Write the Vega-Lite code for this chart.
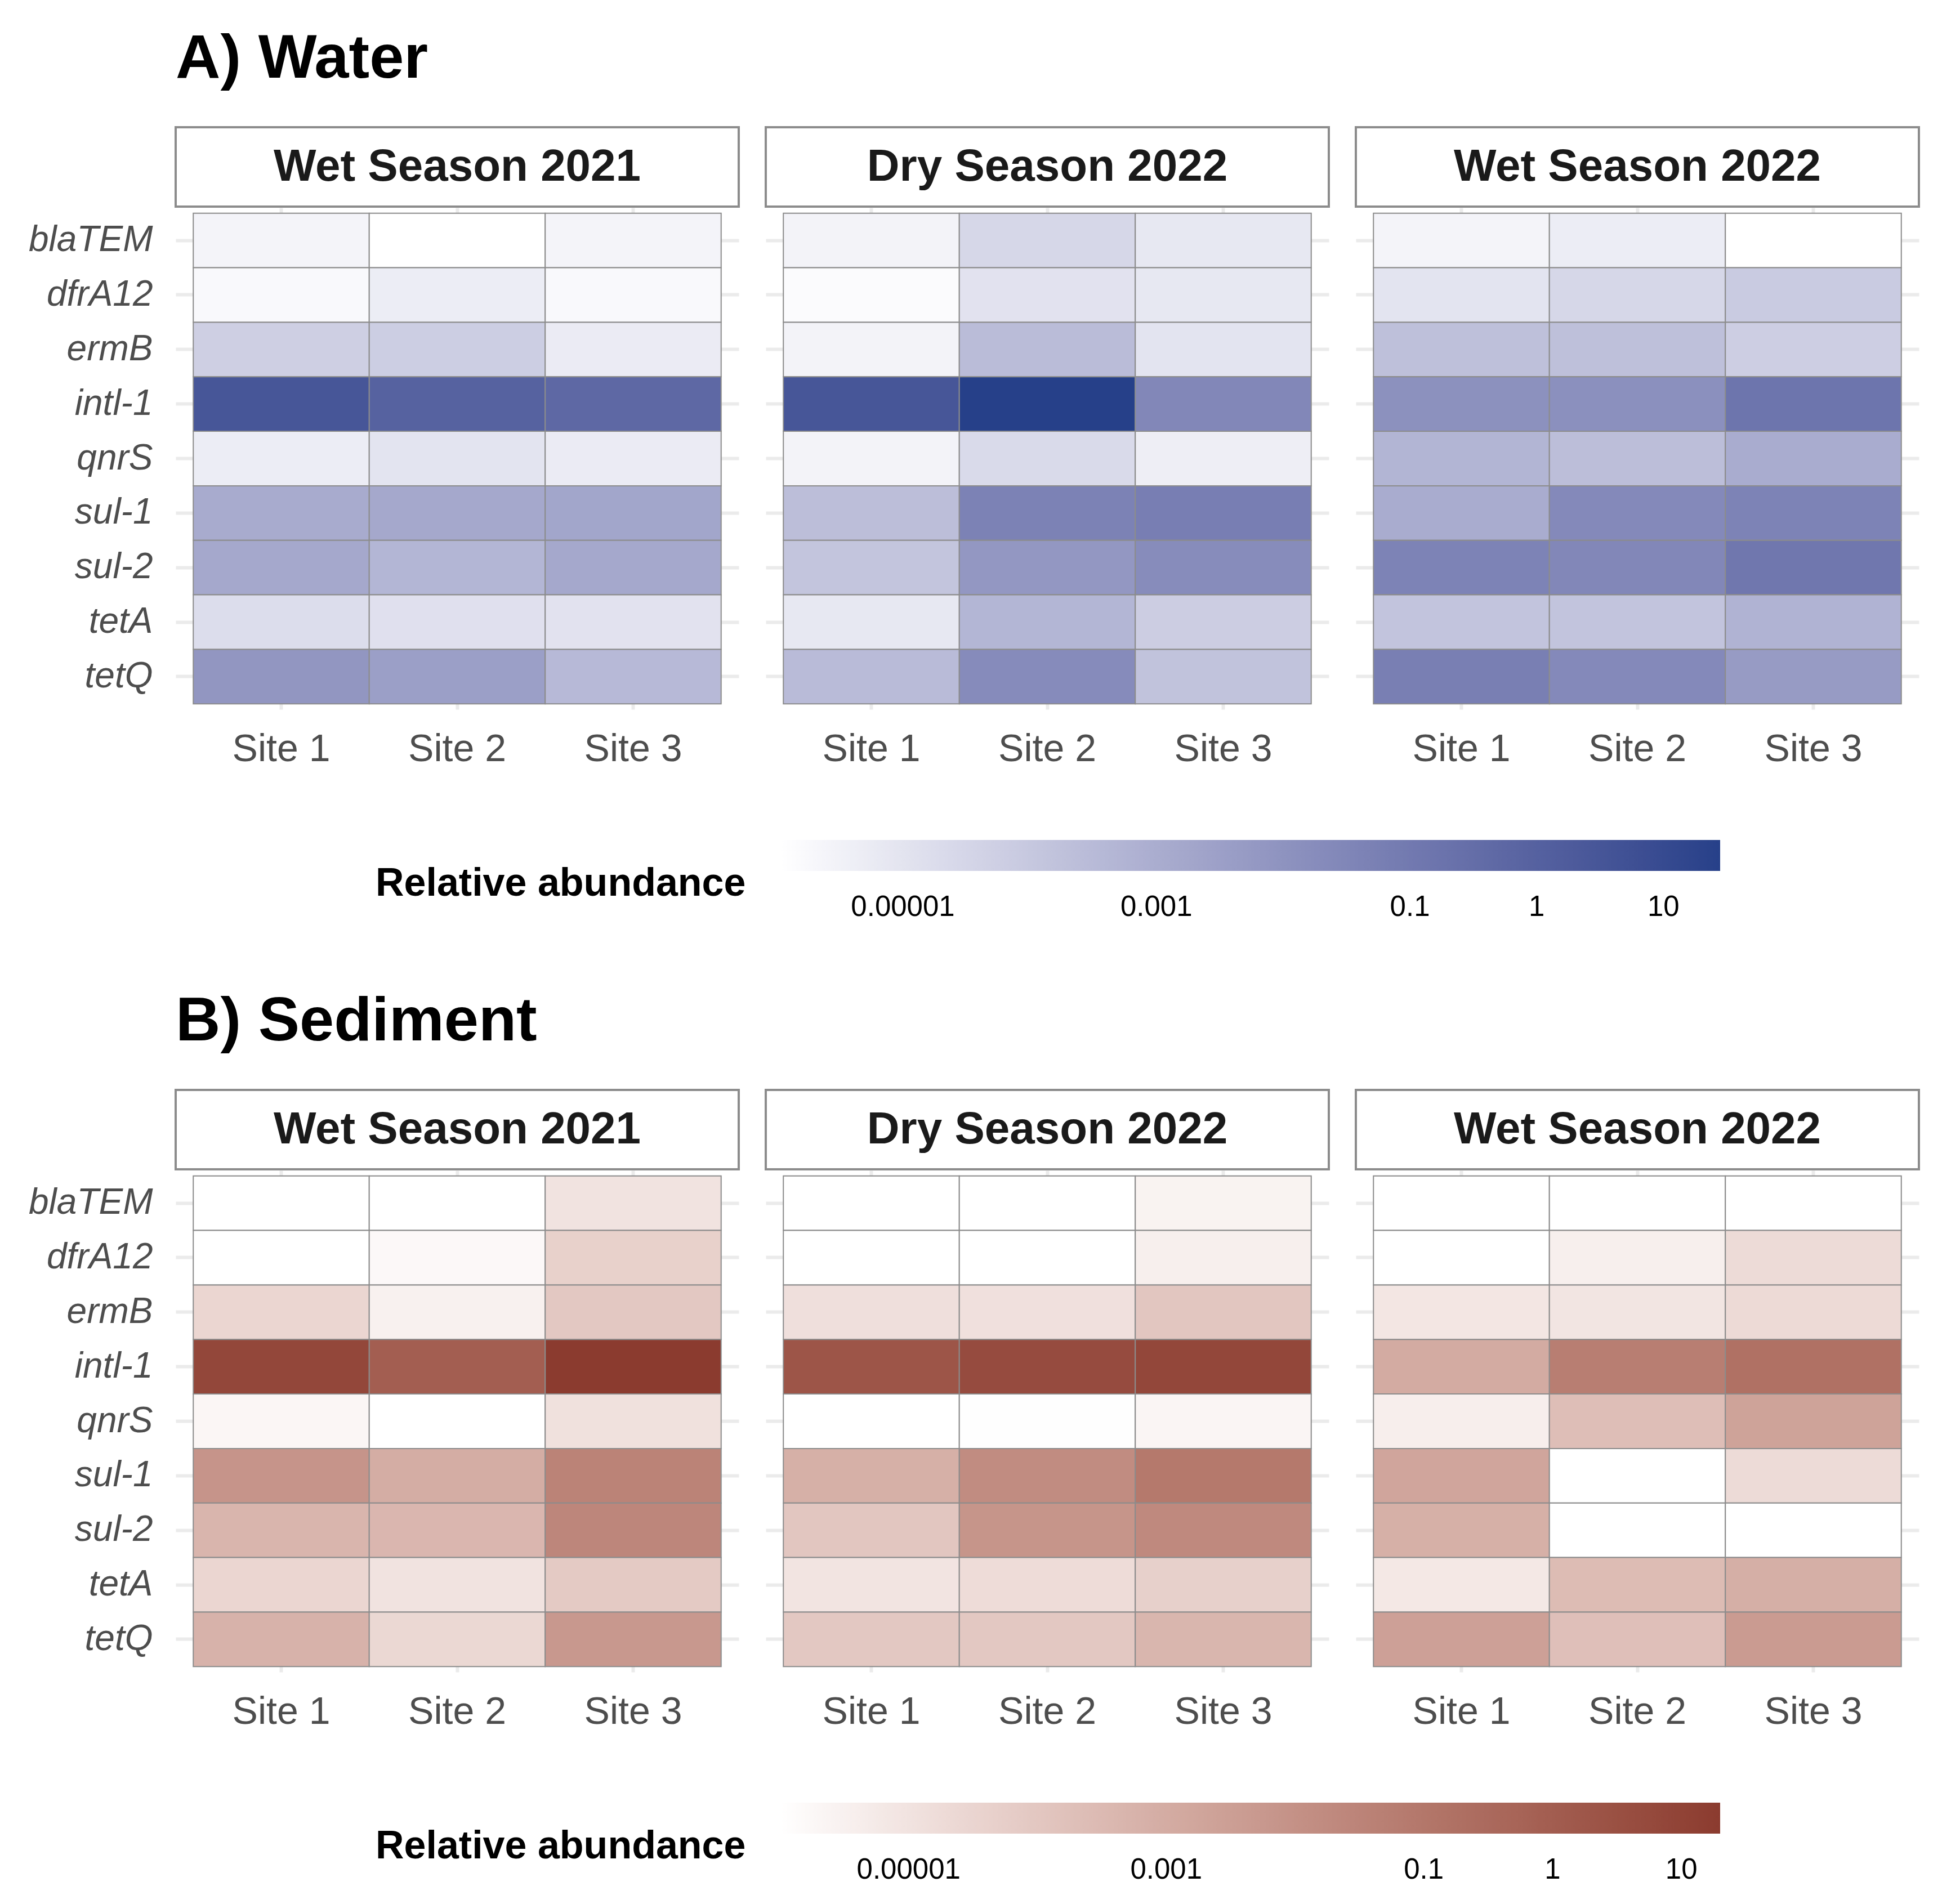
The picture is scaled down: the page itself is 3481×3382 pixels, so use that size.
{
"$schema":"https://vega.github.io/schema/vega-lite/v6.json",
"background":"white",
"padding":{"left":50,"top":50,"right":40,"bottom":30},
"config":{"view":{"stroke":null},"font":"Liberation Sans",
 "axis":{"labelFont":"Liberation Sans","labelColor":"#4D4D4D","ticks":false,"domain":false,"grid":true,"gridColor":"#EBEBEB","gridWidth":6,"zindex":0,"labelLimit":500},
 "axisX":{"labelFontSize":68,"labelAngle":0,"labelPadding":37},
 "axisY":{"labelFontSize":64,"labelFontStyle":"italic","labelPadding":41}
},
"datasets":{"abund":[
{"matrix":"Water","season":"Wet Season 2021","site":"Site 1","gene":"blaTEM","value":2.6e-6},
{"matrix":"Water","season":"Wet Season 2021","site":"Site 2","gene":"blaTEM","value":1.07e-6},
{"matrix":"Water","season":"Wet Season 2021","site":"Site 3","gene":"blaTEM","value":2.6e-6},
{"matrix":"Water","season":"Wet Season 2021","site":"Site 1","gene":"dfrA12","value":1.7e-6},
{"matrix":"Water","season":"Wet Season 2021","site":"Site 2","gene":"dfrA12","value":4.7e-6},
{"matrix":"Water","season":"Wet Season 2021","site":"Site 3","gene":"dfrA12","value":1.7e-6},
{"matrix":"Water","season":"Wet Season 2021","site":"Site 1","gene":"ermB","value":5.6e-5},
{"matrix":"Water","season":"Wet Season 2021","site":"Site 2","gene":"ermB","value":6.2e-5},
{"matrix":"Water","season":"Wet Season 2021","site":"Site 3","gene":"ermB","value":5.4e-6},
{"matrix":"Water","season":"Wet Season 2021","site":"Site 1","gene":"intl-1","value":3.0},
{"matrix":"Water","season":"Wet Season 2021","site":"Site 2","gene":"intl-1","value":0.94},
{"matrix":"Water","season":"Wet Season 2021","site":"Site 3","gene":"intl-1","value":0.5},
{"matrix":"Water","season":"Wet Season 2021","site":"Site 1","gene":"qnrS","value":4.7e-6},
{"matrix":"Water","season":"Wet Season 2021","site":"Site 2","gene":"qnrS","value":9.6e-6},
{"matrix":"Water","season":"Wet Season 2021","site":"Site 3","gene":"qnrS","value":5.4e-6},
{"matrix":"Water","season":"Wet Season 2021","site":"Site 1","gene":"sul-1","value":0.00115},
{"matrix":"Water","season":"Wet Season 2021","site":"Site 2","gene":"sul-1","value":0.0015},
{"matrix":"Water","season":"Wet Season 2021","site":"Site 3","gene":"sul-1","value":0.0019},
{"matrix":"Water","season":"Wet Season 2021","site":"Site 1","gene":"sul-2","value":0.0015},
{"matrix":"Water","season":"Wet Season 2021","site":"Site 2","gene":"sul-2","value":0.00047},
{"matrix":"Water","season":"Wet Season 2021","site":"Site 3","gene":"sul-2","value":0.0015},
{"matrix":"Water","season":"Wet Season 2021","site":"Site 1","gene":"tetA","value":1.7e-5},
{"matrix":"Water","season":"Wet Season 2021","site":"Site 2","gene":"tetA","value":1.3e-5},
{"matrix":"Water","season":"Wet Season 2021","site":"Site 3","gene":"tetA","value":1.1e-5},
{"matrix":"Water","season":"Wet Season 2021","site":"Site 1","gene":"tetQ","value":0.0074},
{"matrix":"Water","season":"Wet Season 2021","site":"Site 2","gene":"tetQ","value":0.0035},
{"matrix":"Water","season":"Wet Season 2021","site":"Site 3","gene":"tetQ","value":0.00034},
{"matrix":"Water","season":"Dry Season 2022","site":"Site 1","gene":"blaTEM","value":2.8e-6},
{"matrix":"Water","season":"Dry Season 2022","site":"Site 2","gene":"blaTEM","value":2.9e-5},
{"matrix":"Water","season":"Dry Season 2022","site":"Site 3","gene":"blaTEM","value":7.0e-6},
{"matrix":"Water","season":"Dry Season 2022","site":"Site 1","gene":"dfrA12","value":1.5e-6},
{"matrix":"Water","season":"Dry Season 2022","site":"Site 2","gene":"dfrA12","value":1.1e-5},
{"matrix":"Water","season":"Dry Season 2022","site":"Site 3","gene":"dfrA12","value":7.0e-6},
{"matrix":"Water","season":"Dry Season 2022","site":"Site 1","gene":"ermB","value":2.8e-6},
{"matrix":"Water","season":"Dry Season 2022","site":"Site 2","gene":"ermB","value":0.00028},
{"matrix":"Water","season":"Dry Season 2022","site":"Site 3","gene":"ermB","value":9.6e-6},
{"matrix":"Water","season":"Dry Season 2022","site":"Site 1","gene":"intl-1","value":3.0},
{"matrix":"Water","season":"Dry Season 2022","site":"Site 2","gene":"intl-1","value":28},
{"matrix":"Water","season":"Dry Season 2022","site":"Site 3","gene":"intl-1","value":0.028},
{"matrix":"Water","season":"Dry Season 2022","site":"Site 1","gene":"qnrS","value":2.8e-6},
{"matrix":"Water","season":"Dry Season 2022","site":"Site 2","gene":"qnrS","value":2.2e-5},
{"matrix":"Water","season":"Dry Season 2022","site":"Site 3","gene":"qnrS","value":4.3e-6},
{"matrix":"Water","season":"Dry Season 2022","site":"Site 1","gene":"sul-1","value":0.00023},
{"matrix":"Water","season":"Dry Season 2022","site":"Site 2","gene":"sul-1","value":0.045},
{"matrix":"Water","season":"Dry Season 2022","site":"Site 3","gene":"sul-1","value":0.063},
{"matrix":"Water","season":"Dry Season 2022","site":"Site 1","gene":"sul-2","value":0.00013},
{"matrix":"Water","season":"Dry Season 2022","site":"Site 2","gene":"sul-2","value":0.0069},
{"matrix":"Water","season":"Dry Season 2022","site":"Site 3","gene":"sul-2","value":0.018},
{"matrix":"Water","season":"Dry Season 2022","site":"Site 1","gene":"tetA","value":7.0e-6},
{"matrix":"Water","season":"Dry Season 2022","site":"Site 2","gene":"tetA","value":0.00047},
{"matrix":"Water","season":"Dry Season 2022","site":"Site 3","gene":"tetA","value":6.6e-5},
{"matrix":"Water","season":"Dry Season 2022","site":"Site 1","gene":"tetQ","value":0.00029},
{"matrix":"Water","season":"Dry Season 2022","site":"Site 2","gene":"tetQ","value":0.020},
{"matrix":"Water","season":"Dry Season 2022","site":"Site 3","gene":"tetQ","value":0.00015},
{"matrix":"Water","season":"Wet Season 2022","site":"Site 1","gene":"blaTEM","value":2.6e-6},
{"matrix":"Water","season":"Wet Season 2022","site":"Site 2","gene":"blaTEM","value":4.7e-6},
{"matrix":"Water","season":"Wet Season 2022","site":"Site 3","gene":"blaTEM","value":1.07e-6},
{"matrix":"Water","season":"Wet Season 2022","site":"Site 1","gene":"dfrA12","value":9.6e-6},
{"matrix":"Water","season":"Wet Season 2022","site":"Site 2","gene":"dfrA12","value":2.9e-5},
{"matrix":"Water","season":"Wet Season 2022","site":"Site 3","gene":"dfrA12","value":7.9e-5},
{"matrix":"Water","season":"Wet Season 2022","site":"Site 1","gene":"ermB","value":0.0002},
{"matrix":"Water","season":"Wet Season 2022","site":"Site 2","gene":"ermB","value":0.0002},
{"matrix":"Water","season":"Wet Season 2022","site":"Site 3","gene":"ermB","value":6.0e-5},
{"matrix":"Water","season":"Wet Season 2022","site":"Site 1","gene":"intl-1","value":0.012},
{"matrix":"Water","season":"Wet Season 2022","site":"Site 2","gene":"intl-1","value":0.013},
{"matrix":"Water","season":"Wet Season 2022","site":"Site 3","gene":"intl-1","value":0.15},
{"matrix":"Water","season":"Wet Season 2022","site":"Site 1","gene":"qnrS","value":0.00051},
{"matrix":"Water","season":"Wet Season 2022","site":"Site 2","gene":"qnrS","value":0.00023},
{"matrix":"Water","season":"Wet Season 2022","site":"Site 3","gene":"qnrS","value":0.00107},
{"matrix":"Water","season":"Wet Season 2022","site":"Site 1","gene":"sul-1","value":0.00107},
{"matrix":"Water","season":"Wet Season 2022","site":"Site 2","gene":"sul-1","value":0.023},
{"matrix":"Water","season":"Wet Season 2022","site":"Site 3","gene":"sul-1","value":0.041},
{"matrix":"Water","season":"Wet Season 2022","site":"Site 1","gene":"sul-2","value":0.041},
{"matrix":"Water","season":"Wet Season 2022","site":"Site 2","gene":"sul-2","value":0.028},
{"matrix":"Water","season":"Wet Season 2022","site":"Site 3","gene":"sul-2","value":0.12},
{"matrix":"Water","season":"Wet Season 2022","site":"Site 1","gene":"tetA","value":0.00014},
{"matrix":"Water","season":"Wet Season 2022","site":"Site 2","gene":"tetA","value":0.00014},
{"matrix":"Water","season":"Wet Season 2022","site":"Site 3","gene":"tetA","value":0.00061},
{"matrix":"Water","season":"Wet Season 2022","site":"Site 1","gene":"tetQ","value":0.059},
{"matrix":"Water","season":"Wet Season 2022","site":"Site 2","gene":"tetQ","value":0.023},
{"matrix":"Water","season":"Wet Season 2022","site":"Site 3","gene":"tetQ","value":0.0048},
{"matrix":"Sediment","season":"Wet Season 2021","site":"Site 1","gene":"blaTEM","value":1e-6},
{"matrix":"Sediment","season":"Wet Season 2021","site":"Site 2","gene":"blaTEM","value":1e-6},
{"matrix":"Sediment","season":"Wet Season 2021","site":"Site 3","gene":"blaTEM","value":9.7e-6},
{"matrix":"Sediment","season":"Wet Season 2021","site":"Site 1","gene":"dfrA12","value":1e-6},
{"matrix":"Sediment","season":"Wet Season 2021","site":"Site 2","gene":"dfrA12","value":1.7e-6},
{"matrix":"Sediment","season":"Wet Season 2021","site":"Site 3","gene":"dfrA12","value":4.5e-5},
{"matrix":"Sediment","season":"Wet Season 2021","site":"Site 1","gene":"ermB","value":2.9e-5},
{"matrix":"Sediment","season":"Wet Season 2021","site":"Site 2","gene":"ermB","value":3.2e-6},
{"matrix":"Sediment","season":"Wet Season 2021","site":"Site 3","gene":"ermB","value":8.9e-5},
{"matrix":"Sediment","season":"Wet Season 2021","site":"Site 1","gene":"intl-1","value":6.9},
{"matrix":"Sediment","season":"Wet Season 2021","site":"Site 2","gene":"intl-1","value":0.93},
{"matrix":"Sediment","season":"Wet Season 2021","site":"Site 3","gene":"intl-1","value":20},
{"matrix":"Sediment","season":"Wet Season 2021","site":"Site 1","gene":"qnrS","value":2.0e-6},
{"matrix":"Sediment","season":"Wet Season 2021","site":"Site 2","gene":"qnrS","value":1e-6},
{"matrix":"Sediment","season":"Wet Season 2021","site":"Site 3","gene":"qnrS","value":1.2e-5},
{"matrix":"Sediment","season":"Wet Season 2021","site":"Site 1","gene":"sul-1","value":0.0076},
{"matrix":"Sediment","season":"Wet Season 2021","site":"Site 2","gene":"sul-1","value":0.00091},
{"matrix":"Sediment","season":"Wet Season 2021","site":"Site 3","gene":"sul-1","value":0.035},
{"matrix":"Sediment","season":"Wet Season 2021","site":"Site 1","gene":"sul-2","value":0.00046},
{"matrix":"Sediment","season":"Wet Season 2021","site":"Site 2","gene":"sul-2","value":0.00041},
{"matrix":"Sediment","season":"Wet Season 2021","site":"Site 3","gene":"sul-2","value":0.026},
{"matrix":"Sediment","season":"Wet Season 2021","site":"Site 1","gene":"tetA","value":2.9e-5},
{"matrix":"Sediment","season":"Wet Season 2021","site":"Site 2","gene":"tetA","value":9.7e-6},
{"matrix":"Sediment","season":"Wet Season 2021","site":"Site 3","gene":"tetA","value":7.9e-5},
{"matrix":"Sediment","season":"Wet Season 2021","site":"Site 1","gene":"tetQ","value":0.00057},
{"matrix":"Sediment","season":"Wet Season 2021","site":"Site 2","gene":"tetQ","value":2.5e-5},
{"matrix":"Sediment","season":"Wet Season 2021","site":"Site 3","gene":"tetQ","value":0.0054},
{"matrix":"Sediment","season":"Dry Season 2022","site":"Site 1","gene":"blaTEM","value":1e-6},
{"matrix":"Sediment","season":"Dry Season 2022","site":"Site 2","gene":"blaTEM","value":1e-6},
{"matrix":"Sediment","season":"Dry Season 2022","site":"Site 3","gene":"blaTEM","value":2.7e-6},
{"matrix":"Sediment","season":"Dry Season 2022","site":"Site 1","gene":"dfrA12","value":1e-6},
{"matrix":"Sediment","season":"Dry Season 2022","site":"Site 2","gene":"dfrA12","value":1e-6},
{"matrix":"Sediment","season":"Dry Season 2022","site":"Site 3","gene":"dfrA12","value":3.6e-6},
{"matrix":"Sediment","season":"Dry Season 2022","site":"Site 1","gene":"ermB","value":1.35e-5},
{"matrix":"Sediment","season":"Dry Season 2022","site":"Site 2","gene":"ermB","value":1.25e-5},
{"matrix":"Sediment","season":"Dry Season 2022","site":"Site 3","gene":"ermB","value":0.000107},
{"matrix":"Sediment","season":"Dry Season 2022","site":"Site 1","gene":"intl-1","value":2.0},
{"matrix":"Sediment","season":"Dry Season 2022","site":"Site 2","gene":"intl-1","value":4.7},
{"matrix":"Sediment","season":"Dry Season 2022","site":"Site 3","gene":"intl-1","value":6.9},
{"matrix":"Sediment","season":"Dry Season 2022","site":"Site 1","gene":"qnrS","value":1e-6},
{"matrix":"Sediment","season":"Dry Season 2022","site":"Site 2","gene":"qnrS","value":1.1e-6},
{"matrix":"Sediment","season":"Dry Season 2022","site":"Site 3","gene":"qnrS","value":2.2e-6},
{"matrix":"Sediment","season":"Dry Season 2022","site":"Site 1","gene":"sul-1","value":0.00072},
{"matrix":"Sediment","season":"Dry Season 2022","site":"Site 2","gene":"sul-1","value":0.015},
{"matrix":"Sediment","season":"Dry Season 2022","site":"Site 3","gene":"sul-1","value":0.085},
{"matrix":"Sediment","season":"Dry Season 2022","site":"Site 1","gene":"sul-2","value":0.000105},
{"matrix":"Sediment","season":"Dry Season 2022","site":"Site 2","gene":"sul-2","value":0.0072},
{"matrix":"Sediment","season":"Dry Season 2022","site":"Site 3","gene":"sul-2","value":0.020},
{"matrix":"Sediment","season":"Dry Season 2022","site":"Site 1","gene":"tetA","value":8.9e-6},
{"matrix":"Sediment","season":"Dry Season 2022","site":"Site 2","gene":"tetA","value":1.7e-5},
{"matrix":"Sediment","season":"Dry Season 2022","site":"Site 3","gene":"tetA","value":4.8e-5},
{"matrix":"Sediment","season":"Dry Season 2022","site":"Site 1","gene":"tetQ","value":9.3e-5},
{"matrix":"Sediment","season":"Dry Season 2022","site":"Site 2","gene":"tetQ","value":9.3e-5},
{"matrix":"Sediment","season":"Dry Season 2022","site":"Site 3","gene":"tetQ","value":0.00043},
{"matrix":"Sediment","season":"Wet Season 2022","site":"Site 1","gene":"blaTEM","value":1e-6},
{"matrix":"Sediment","season":"Wet Season 2022","site":"Site 2","gene":"blaTEM","value":1e-6},
{"matrix":"Sediment","season":"Wet Season 2022","site":"Site 3","gene":"blaTEM","value":1e-6},
{"matrix":"Sediment","season":"Wet Season 2022","site":"Site 1","gene":"dfrA12","value":1e-6},
{"matrix":"Sediment","season":"Wet Season 2022","site":"Site 2","gene":"dfrA12","value":3.6e-6},
{"matrix":"Sediment","season":"Wet Season 2022","site":"Site 3","gene":"dfrA12","value":1.9e-5},
{"matrix":"Sediment","season":"Wet Season 2022","site":"Site 1","gene":"ermB","value":7.9e-6},
{"matrix":"Sediment","season":"Wet Season 2022","site":"Site 2","gene":"ermB","value":8.5e-6},
{"matrix":"Sediment","season":"Wet Season 2022","site":"Site 3","gene":"ermB","value":2.1e-5},
{"matrix":"Sediment","season":"Wet Season 2022","site":"Site 1","gene":"intl-1","value":0.00105},
{"matrix":"Sediment","season":"Wet Season 2022","site":"Site 2","gene":"intl-1","value":0.055},
{"matrix":"Sediment","season":"Wet Season 2022","site":"Site 3","gene":"intl-1","value":0.17},
{"matrix":"Sediment","season":"Wet Season 2022","site":"Site 1","gene":"qnrS","value":4.0e-6},
{"matrix":"Sediment","season":"Wet Season 2022","site":"Site 2","gene":"qnrS","value":0.00022},
{"matrix":"Sediment","season":"Wet Season 2022","site":"Site 3","gene":"qnrS","value":0.0022},
{"matrix":"Sediment","season":"Wet Season 2022","site":"Site 1","gene":"sul-1","value":0.0018},
{"matrix":"Sediment","season":"Wet Season 2022","site":"Site 2","gene":"sul-1","value":1e-6},
{"matrix":"Sediment","season":"Wet Season 2022","site":"Site 3","gene":"sul-1","value":1.9e-5},
{"matrix":"Sediment","season":"Wet Season 2022","site":"Site 1","gene":"sul-2","value":0.00072},
{"matrix":"Sediment","season":"Wet Season 2022","site":"Site 2","gene":"sul-2","value":1e-6},
{"matrix":"Sediment","season":"Wet Season 2022","site":"Site 3","gene":"sul-2","value":1e-6},
{"matrix":"Sediment","season":"Wet Season 2022","site":"Site 1","gene":"tetA","value":6.6e-6},
{"matrix":"Sediment","season":"Wet Season 2022","site":"Site 2","gene":"tetA","value":0.00026},
{"matrix":"Sediment","season":"Wet Season 2022","site":"Site 3","gene":"tetA","value":0.00078},
{"matrix":"Sediment","season":"Wet Season 2022","site":"Site 1","gene":"tetQ","value":0.0027},
{"matrix":"Sediment","season":"Wet Season 2022","site":"Site 2","gene":"tetQ","value":0.00019},
{"matrix":"Sediment","season":"Wet Season 2022","site":"Site 3","gene":"tetQ","value":0.0042}
]},
"spacing":123,
"resolve":{"scale":{"color":"independent"},"legend":{"color":"independent"}},
"vconcat":[
{"title":{"text":"A) Water","anchor":"start","frame":"group","fontSize":110,"fontWeight":"bold","font":"Liberation Sans","color":"black","baseline":"alphabetic","offset":-24},
 "spacing":44,
 "resolve":{"scale":{"color":"shared"}},
 "hconcat":[
  {"spacing":0,"vconcat":[
   {"width":1000,"height":141,"data":{"values":[{"season":"Wet Season 2021"}]},"mark":{"type":"text","fontSize":80,"fontWeight":"bold","color":"#1A1A1A","baseline":"middle","font":"Liberation Sans"},"encoding":{"text":{"field":"season","type":"nominal"}},"view":{"stroke":"#8C8C8C","strokeWidth":4,"fill":"white"}},
   {"width":1000,"height":891,"data":{"name":"abund"},"transform":[{"filter":"datum.matrix == 'Water' && datum.season == 'Wet Season 2021'"}],"mark":{"type":"rect","stroke":"#8C8C8C","strokeWidth":2},
    "encoding":{
     "x":{"field":"site","type":"nominal","title":null,"sort":["Site 1","Site 2","Site 3"],"scale":{"paddingInner":0,"paddingOuter":0.1}},
     "y":{"field":"gene","type":"nominal","title":null,"sort":["blaTEM","dfrA12","ermB","intl-1","qnrS","sul-1","sul-2","tetA","tetQ"],"scale":{"paddingInner":0,"paddingOuter":0.1}},
     "color":{"field":"value","type":"quantitative","scale":{"type":"log","domain":[1.07e-6,28],"range":["#FFFFFF","#264089"],"interpolate":"lab","clamp":true},"legend":{"title":"Relative abundance","values":[0.00001,0.001,0.1,1,10],"format":".5~f","orient":"none","legendX":355,"legendY":1266,"direction":"horizontal","titleOrient":"left","titleAnchor":"middle","titleBaseline":"line-top","titleLineHeight":102,"titleFontSize":70,"titleFontWeight":"bold","titleColor":"black","titleFont":"Liberation Sans","titlePadding":60,"titleLimit":2000,"gradientLength":1670,"gradientThickness":55,"gradientStrokeWidth":0,"labelFontSize":51,"labelColor":"black","labelFont":"Liberation Sans","labelOffset":40,"labelLimit":500}}}}
  ]},
  {"spacing":0,"vconcat":[
   {"width":1000,"height":141,"data":{"values":[{"season":"Dry Season 2022"}]},"mark":{"type":"text","fontSize":80,"fontWeight":"bold","color":"#1A1A1A","baseline":"middle","font":"Liberation Sans"},"encoding":{"text":{"field":"season","type":"nominal"}},"view":{"stroke":"#8C8C8C","strokeWidth":4,"fill":"white"}},
   {"width":1000,"height":891,"data":{"name":"abund"},"transform":[{"filter":"datum.matrix == 'Water' && datum.season == 'Dry Season 2022'"}],"mark":{"type":"rect","stroke":"#8C8C8C","strokeWidth":2},
    "encoding":{
     "x":{"field":"site","type":"nominal","title":null,"sort":["Site 1","Site 2","Site 3"],"scale":{"paddingInner":0,"paddingOuter":0.1}},
     "y":{"field":"gene","type":"nominal","title":null,"sort":["blaTEM","dfrA12","ermB","intl-1","qnrS","sul-1","sul-2","tetA","tetQ"],"scale":{"paddingInner":0,"paddingOuter":0.1},"axis":{"labels":false}},
     "color":{"field":"value","type":"quantitative","scale":{"type":"log","domain":[1.07e-6,28],"range":["#FFFFFF","#264089"],"interpolate":"lab","clamp":true},"legend":{"title":"Relative abundance","values":[0.00001,0.001,0.1,1,10],"format":".5~f","orient":"none","legendX":355,"legendY":1266,"direction":"horizontal","titleOrient":"left","titleAnchor":"middle","titleBaseline":"line-top","titleLineHeight":102,"titleFontSize":70,"titleFontWeight":"bold","titleColor":"black","titleFont":"Liberation Sans","titlePadding":60,"titleLimit":2000,"gradientLength":1670,"gradientThickness":55,"gradientStrokeWidth":0,"labelFontSize":51,"labelColor":"black","labelFont":"Liberation Sans","labelOffset":40,"labelLimit":500}}}}
  ]},
  {"spacing":0,"vconcat":[
   {"width":1000,"height":141,"data":{"values":[{"season":"Wet Season 2022"}]},"mark":{"type":"text","fontSize":80,"fontWeight":"bold","color":"#1A1A1A","baseline":"middle","font":"Liberation Sans"},"encoding":{"text":{"field":"season","type":"nominal"}},"view":{"stroke":"#8C8C8C","strokeWidth":4,"fill":"white"}},
   {"width":1000,"height":891,"data":{"name":"abund"},"transform":[{"filter":"datum.matrix == 'Water' && datum.season == 'Wet Season 2022'"}],"mark":{"type":"rect","stroke":"#8C8C8C","strokeWidth":2},
    "encoding":{
     "x":{"field":"site","type":"nominal","title":null,"sort":["Site 1","Site 2","Site 3"],"scale":{"paddingInner":0,"paddingOuter":0.1}},
     "y":{"field":"gene","type":"nominal","title":null,"sort":["blaTEM","dfrA12","ermB","intl-1","qnrS","sul-1","sul-2","tetA","tetQ"],"scale":{"paddingInner":0,"paddingOuter":0.1},"axis":{"labels":false}},
     "color":{"field":"value","type":"quantitative","scale":{"type":"log","domain":[1.07e-6,28],"range":["#FFFFFF","#264089"],"interpolate":"lab","clamp":true},"legend":{"title":"Relative abundance","values":[0.00001,0.001,0.1,1,10],"format":".5~f","orient":"none","legendX":355,"legendY":1266,"direction":"horizontal","titleOrient":"left","titleAnchor":"middle","titleBaseline":"line-top","titleLineHeight":102,"titleFontSize":70,"titleFontWeight":"bold","titleColor":"black","titleFont":"Liberation Sans","titlePadding":60,"titleLimit":2000,"gradientLength":1670,"gradientThickness":55,"gradientStrokeWidth":0,"labelFontSize":51,"labelColor":"black","labelFont":"Liberation Sans","labelOffset":40,"labelLimit":500}}}}
  ]}
 ]},
{"title":{"text":"B) Sediment","anchor":"start","frame":"group","fontSize":110,"fontWeight":"bold","font":"Liberation Sans","color":"black","baseline":"alphabetic","offset":-24},
 "spacing":44,
 "resolve":{"scale":{"color":"shared"}},
 "hconcat":[
  {"spacing":0,"vconcat":[
   {"width":1000,"height":141,"data":{"values":[{"season":"Wet Season 2021"}]},"mark":{"type":"text","fontSize":80,"fontWeight":"bold","color":"#1A1A1A","baseline":"middle","font":"Liberation Sans"},"encoding":{"text":{"field":"season","type":"nominal"}},"view":{"stroke":"#8C8C8C","strokeWidth":4,"fill":"white"}},
   {"width":1000,"height":891,"data":{"name":"abund"},"transform":[{"filter":"datum.matrix == 'Sediment' && datum.season == 'Wet Season 2021'"}],"mark":{"type":"rect","stroke":"#8C8C8C","strokeWidth":2},
    "encoding":{
     "x":{"field":"site","type":"nominal","title":null,"sort":["Site 1","Site 2","Site 3"],"scale":{"paddingInner":0,"paddingOuter":0.1}},
     "y":{"field":"gene","type":"nominal","title":null,"sort":["blaTEM","dfrA12","ermB","intl-1","qnrS","sul-1","sul-2","tetA","tetQ"],"scale":{"paddingInner":0,"paddingOuter":0.1}},
     "color":{"field":"value","type":"quantitative","scale":{"type":"log","domain":[1e-6,20],"range":["#FFFFFF","#8B3B2F"],"interpolate":"lab","clamp":true},"legend":{"title":"Relative abundance","values":[0.00001,0.001,0.1,1,10],"format":".5~f","orient":"none","legendX":355,"legendY":1266,"direction":"horizontal","titleOrient":"left","titleAnchor":"middle","titleBaseline":"line-top","titleLineHeight":102,"titleFontSize":70,"titleFontWeight":"bold","titleColor":"black","titleFont":"Liberation Sans","titlePadding":60,"titleLimit":2000,"gradientLength":1670,"gradientThickness":55,"gradientStrokeWidth":0,"labelFontSize":51,"labelColor":"black","labelFont":"Liberation Sans","labelOffset":40,"labelLimit":500}}}}
  ]},
  {"spacing":0,"vconcat":[
   {"width":1000,"height":141,"data":{"values":[{"season":"Dry Season 2022"}]},"mark":{"type":"text","fontSize":80,"fontWeight":"bold","color":"#1A1A1A","baseline":"middle","font":"Liberation Sans"},"encoding":{"text":{"field":"season","type":"nominal"}},"view":{"stroke":"#8C8C8C","strokeWidth":4,"fill":"white"}},
   {"width":1000,"height":891,"data":{"name":"abund"},"transform":[{"filter":"datum.matrix == 'Sediment' && datum.season == 'Dry Season 2022'"}],"mark":{"type":"rect","stroke":"#8C8C8C","strokeWidth":2},
    "encoding":{
     "x":{"field":"site","type":"nominal","title":null,"sort":["Site 1","Site 2","Site 3"],"scale":{"paddingInner":0,"paddingOuter":0.1}},
     "y":{"field":"gene","type":"nominal","title":null,"sort":["blaTEM","dfrA12","ermB","intl-1","qnrS","sul-1","sul-2","tetA","tetQ"],"scale":{"paddingInner":0,"paddingOuter":0.1},"axis":{"labels":false}},
     "color":{"field":"value","type":"quantitative","scale":{"type":"log","domain":[1e-6,20],"range":["#FFFFFF","#8B3B2F"],"interpolate":"lab","clamp":true},"legend":{"title":"Relative abundance","values":[0.00001,0.001,0.1,1,10],"format":".5~f","orient":"none","legendX":355,"legendY":1266,"direction":"horizontal","titleOrient":"left","titleAnchor":"middle","titleBaseline":"line-top","titleLineHeight":102,"titleFontSize":70,"titleFontWeight":"bold","titleColor":"black","titleFont":"Liberation Sans","titlePadding":60,"titleLimit":2000,"gradientLength":1670,"gradientThickness":55,"gradientStrokeWidth":0,"labelFontSize":51,"labelColor":"black","labelFont":"Liberation Sans","labelOffset":40,"labelLimit":500}}}}
  ]},
  {"spacing":0,"vconcat":[
   {"width":1000,"height":141,"data":{"values":[{"season":"Wet Season 2022"}]},"mark":{"type":"text","fontSize":80,"fontWeight":"bold","color":"#1A1A1A","baseline":"middle","font":"Liberation Sans"},"encoding":{"text":{"field":"season","type":"nominal"}},"view":{"stroke":"#8C8C8C","strokeWidth":4,"fill":"white"}},
   {"width":1000,"height":891,"data":{"name":"abund"},"transform":[{"filter":"datum.matrix == 'Sediment' && datum.season == 'Wet Season 2022'"}],"mark":{"type":"rect","stroke":"#8C8C8C","strokeWidth":2},
    "encoding":{
     "x":{"field":"site","type":"nominal","title":null,"sort":["Site 1","Site 2","Site 3"],"scale":{"paddingInner":0,"paddingOuter":0.1}},
     "y":{"field":"gene","type":"nominal","title":null,"sort":["blaTEM","dfrA12","ermB","intl-1","qnrS","sul-1","sul-2","tetA","tetQ"],"scale":{"paddingInner":0,"paddingOuter":0.1},"axis":{"labels":false}},
     "color":{"field":"value","type":"quantitative","scale":{"type":"log","domain":[1e-6,20],"range":["#FFFFFF","#8B3B2F"],"interpolate":"lab","clamp":true},"legend":{"title":"Relative abundance","values":[0.00001,0.001,0.1,1,10],"format":".5~f","orient":"none","legendX":355,"legendY":1266,"direction":"horizontal","titleOrient":"left","titleAnchor":"middle","titleBaseline":"line-top","titleLineHeight":102,"titleFontSize":70,"titleFontWeight":"bold","titleColor":"black","titleFont":"Liberation Sans","titlePadding":60,"titleLimit":2000,"gradientLength":1670,"gradientThickness":55,"gradientStrokeWidth":0,"labelFontSize":51,"labelColor":"black","labelFont":"Liberation Sans","labelOffset":40,"labelLimit":500}}}}
  ]}
 ]}
]
}
